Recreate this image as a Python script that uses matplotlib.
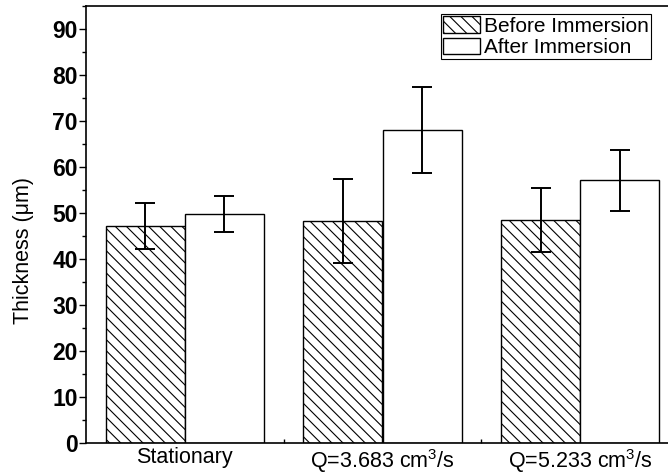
import numpy as np
import matplotlib
matplotlib.use("Agg")
import matplotlib.pyplot as plt
from matplotlib.ticker import MultipleLocator, FixedLocator

plt.rcParams['font.family'] = ['Liberation Sans', 'DejaVu Sans']
plt.rcParams['mathtext.fontset'] = 'custom'
plt.rcParams['mathtext.rm'] = 'Liberation Sans'
plt.rcParams['hatch.linewidth'] = 0.8

# data
groups = ['Stationary', 'Q=3.683 cm$^{3}$/s', 'Q=5.233 cm$^{3}$/s']
before = [47.2, 48.3, 48.5]
before_err = [5.05, 9.1, 7.0]
after = [49.8, 68.0, 57.1]
after_err = [3.9, 9.35, 6.6]

W, H = 668, 474
fig = plt.figure(figsize=(W / 100, H / 100), dpi=100)
# axes runs past the right edge, like the cropped original
ax = fig.add_axes([86 / W, 1 - 443 / H, (679 - 86) / W, 437 / H])

x = np.arange(1, len(groups) + 1)
width = 0.4
ekw = dict(elinewidth=1.4, capthick=1.4, ecolor='black')

ax.bar(x - width / 2, before, width, yerr=before_err, capsize=7,
       color='white', edgecolor='black', linewidth=1.0, hatch='\\\\\\',
       error_kw=ekw, label='Before Immersion')
ax.bar(x + width / 2, after, width, yerr=after_err, capsize=7,
       color='white', edgecolor='black', linewidth=1.0,
       error_kw=ekw, label='After Immersion')

ax.set_xlim(0.5, 3.5)
ax.set_ylim(0, 95)

ax.yaxis.set_major_locator(MultipleLocator(10))
ax.yaxis.set_minor_locator(MultipleLocator(5))
ax.tick_params(axis='y', which='major', direction='out', length=5, width=1, pad=1,
               labelsize=16.5)
ax.tick_params(axis='y', which='minor', direction='out', length=3, width=1)
for lab in ax.get_yticklabels():
    lab.set_fontweight('bold')

ax.set_xticks(x)
ax.set_xticklabels(groups)
ax.xaxis.set_minor_locator(FixedLocator([1.5, 2.5]))
ax.tick_params(axis='x', which='major', length=0, pad=3, labelsize=15.5)
ax.tick_params(axis='x', which='minor', direction='in', length=3, width=1)

for s in ax.spines.values():
    s.set_linewidth(1.2)

ax.set_ylabel('Thickness (\u03bcm)', fontsize=15.5)
ax.yaxis.set_label_coords(-0.088, 0.44)

ax.legend(loc='upper right', bbox_to_anchor=(651 / W, 1 - 14 / H),
          bbox_transform=fig.transFigure, fontsize=15, frameon=True,
          fancybox=False, edgecolor='black', framealpha=1,
          borderpad=0.1, handlelength=1.75, handleheight=0.85,
          handletextpad=0.2, labelspacing=0.1, borderaxespad=0)
leg = ax.get_legend()
leg.get_frame().set_linewidth(0.8)

fig.savefig('out.png', dpi=100)
